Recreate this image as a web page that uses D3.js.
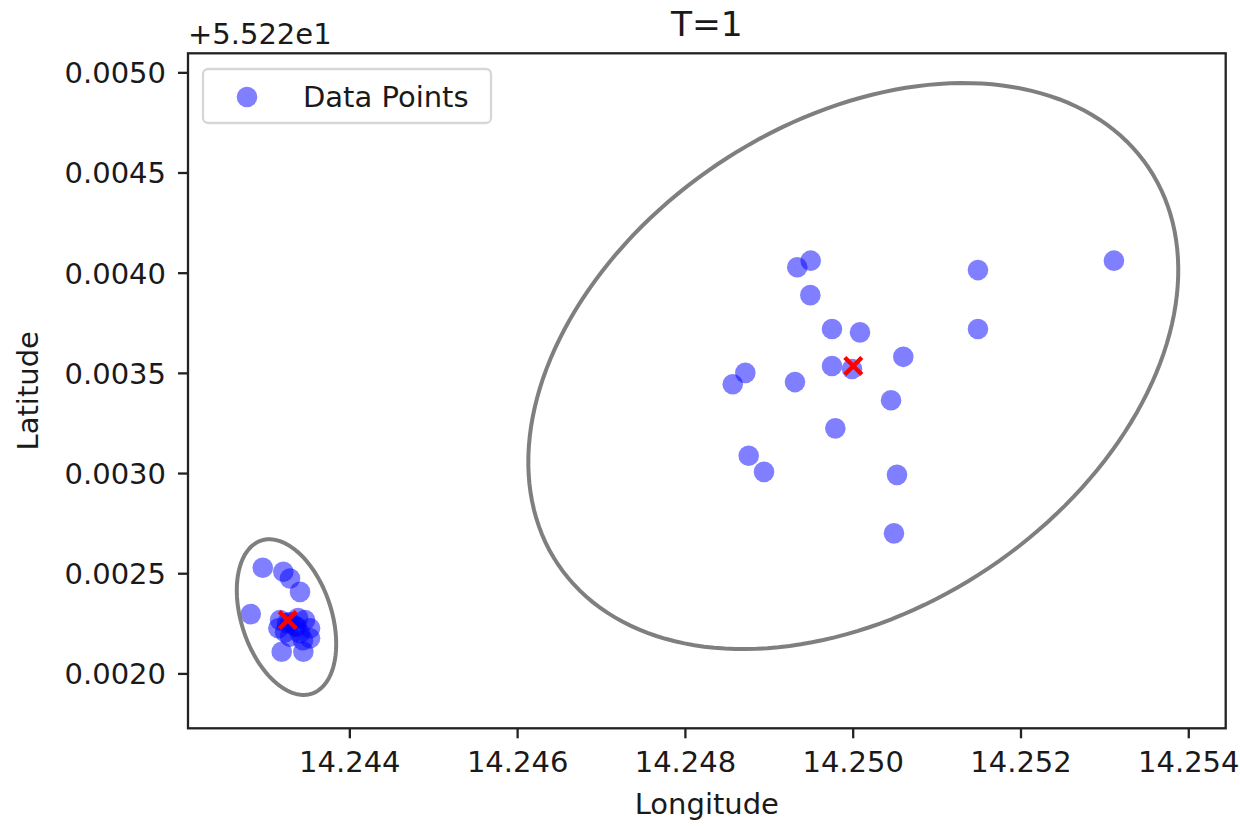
<!DOCTYPE html>
<html>
<head>
<meta charset="utf-8">
<script src="https://cdn.jsdelivr.net/npm/d3@7"></script>
<style>
  body { margin: 0; background: #fff; }
  svg { display: block; font-family: "DejaVu Sans", sans-serif; }
</style>
</head>
<body>
<svg id="graph" width="1240" height="827"></svg>
<script>
// points (lon, lat offset from 55.22)
var lonValues = [
  14.249339, 14.249499, 14.249495, 14.249753, 14.250087, 14.250603, 14.249753, 14.249992,
  14.248720, 14.248570, 14.249312, 14.250457, 14.249793, 14.248760, 14.248943, 14.250528,
  14.250492, 14.251493, 14.251493, 14.253114,
  14.242968, 14.243213, 14.243293, 14.243412, 14.242825, 14.243174, 14.243472, 14.243532,
  14.243532, 14.243293, 14.243154, 14.243373, 14.243194, 14.243452, 14.243257, 14.243412,
  14.243293, 14.243389, 14.243234, 14.243448, 14.243353
];
var latValues = [
  0.004027, 0.004060, 0.003888, 0.003719, 0.003702, 0.003580, 0.003534, 0.003519,
  0.003500, 0.003443, 0.003454, 0.003363, 0.003223, 0.003086, 0.003006, 0.002991,
  0.002699, 0.004013, 0.003719, 0.004060,
  0.002527, 0.002507, 0.002474, 0.002407, 0.002296, 0.002266, 0.002266, 0.002225,
  0.002175, 0.002183, 0.002225, 0.002233, 0.002108, 0.002108, 0.002251, 0.002201,
  0.002256, 0.002276, 0.002206, 0.002166, 0.002236
];
// cluster centres (red x)
var centerLon = [14.243266, 14.250007];
var centerLat = [0.002266, 0.003534];
// ellipses: centre, full width / height in data units, angle in degrees
var ellipseLon = [14.243251, 14.250007];
var ellipseLat = [0.002281, 0.003534];
var ellipseWidth = [0.0012303, 0.007814];
var ellipseHeight = [0.00070228, 0.002635];
var ellipseAngle = [-19.2, 7.96];

var xTicks = [14.244, 14.246, 14.248, 14.250, 14.252, 14.254];
var yTicks = [0.0020, 0.0025, 0.0030, 0.0035, 0.0040, 0.0045, 0.0050];
var xDomain = [14.242077, 14.254446];
var yDomain = [0.001726, 0.005095];

var plotLeft = 188, plotRight = 1225.7, plotTop = 53.3, plotBottom = 728.3;
var fontSize = 29;
var pointColor = "rgba(0,0,255,0.5)";
var textColor = "#1a1a1a";

var svg = d3.select("#graph");
var x = d3.scaleLinear().domain(xDomain).range([plotLeft, plotRight]);
var y = d3.scaleLinear().domain(yDomain).range([plotBottom, plotTop]);

svg.append("defs").append("clipPath").attr("id", "plotClip")
  .append("rect")
  .attr("x", plotLeft).attr("y", plotTop)
  .attr("width", plotRight - plotLeft).attr("height", plotBottom - plotTop);

var plot = svg.append("g").attr("clip-path", "url(#plotClip)");

function ellipsePoints(i) {
  var a = ellipseWidth[i] / 2, b = ellipseHeight[i] / 2;
  var phi = ellipseAngle[i] * Math.PI / 180;
  var pts = [];
  for (var k = 0; k < 180; k++) {
    var t = k / 180 * 2 * Math.PI;
    pts.push([
      ellipseLon[i] + a * Math.cos(t) * Math.cos(phi) - b * Math.sin(t) * Math.sin(phi),
      ellipseLat[i] + a * Math.cos(t) * Math.sin(phi) + b * Math.sin(t) * Math.cos(phi)
    ]);
  }
  return pts;
}

var points = lonValues.map(function (d, i) { return { lon: d, lat: latValues[i] }; });
plot.selectAll("circle.pt")
  .data(points)
  .enter().append("circle")
  .attr("class", "pt")
  .attr("cx", function (d) { return x(d.lon); })
  .attr("cy", function (d) { return y(d.lat); })
  .attr("r", 10.3)
  .style("fill", pointColor);

var centers = centerLon.map(function (d, i) { return { lon: d, lat: centerLat[i] }; });
plot.selectAll("path.center")
  .data(centers)
  .enter().append("path")
  .attr("class", "center")
  .attr("transform", function (d) { return "translate(" + x(d.lon) + "," + y(d.lat) + ")"; })
  .attr("d", "M-8.5,-8.5L8.5,8.5M-8.5,8.5L8.5,-8.5")
  .style("stroke", "red")
  .style("stroke-width", 4.4)
  .style("fill", "none");

var line = d3.line()
  .x(function (d) { return x(d[0]); })
  .y(function (d) { return y(d[1]); })
  .curve(d3.curveLinearClosed);
plot.selectAll("path.ellipse")
  .data(ellipseLon.map(function (d, i) { return ellipsePoints(i); }))
  .enter().append("path")
  .attr("class", "ellipse")
  .attr("d", line)
  .style("fill", "none")
  .style("stroke", "#7f7f7f")
  .style("stroke-width", 4);

// axes
var xAxis = svg.append("g")
  .attr("transform", "translate(0," + plotBottom + ")")
  .call(d3.axisBottom(x).tickValues(xTicks).tickFormat(d3.format(".3f")).tickSizeInner(10).tickSizeOuter(0).tickPadding(12));
var yAxis = svg.append("g")
  .attr("transform", "translate(" + plotLeft + ",0)")
  .call(d3.axisLeft(y).tickValues(yTicks).tickFormat(d3.format(".4f")).tickSizeInner(10).tickSizeOuter(0).tickPadding(12));
[xAxis, yAxis].forEach(function (g) {
  g.select(".domain").remove();
  g.selectAll(".tick line").style("stroke", "#222").style("stroke-width", 2.3);
  g.selectAll(".tick text").style("font-size", fontSize + "px").style("fill", textColor)
    .style("font-family", "DejaVu Sans");
});
xAxis.selectAll(".tick text").attr("dy", "0.75em");
yAxis.selectAll(".tick text").attr("dy", "0.36em");

svg.append("rect")
  .attr("x", plotLeft).attr("y", plotTop)
  .attr("width", plotRight - plotLeft).attr("height", plotBottom - plotTop)
  .style("fill", "none")
  .style("stroke", "#222")
  .style("stroke-width", 2.3);

// texts
svg.append("text")
  .attr("x", (plotLeft + plotRight) / 2).attr("y", 36)
  .attr("text-anchor", "middle")
  .style("font-size", "34.5px").style("fill", textColor)
  .text("T=1");
svg.append("text")
  .attr("x", plotLeft).attr("y", 44)
  .style("font-size", fontSize + "px").style("fill", textColor)
  .text("+5.522e1");
svg.append("text")
  .attr("x", (plotLeft + plotRight) / 2).attr("y", 814)
  .attr("text-anchor", "middle")
  .style("font-size", fontSize + "px").style("fill", textColor)
  .text("Longitude");
svg.append("text")
  .attr("transform", "translate(38," + (plotTop + plotBottom) / 2 + ") rotate(-90)")
  .attr("text-anchor", "middle")
  .style("font-size", fontSize + "px").style("fill", textColor)
  .text("Latitude");

// legend
var legend = svg.append("g");
legend.append("rect")
  .attr("x", 203).attr("y", 69)
  .attr("width", 288).attr("height", 54)
  .attr("rx", 5)
  .style("fill", "rgba(255,255,255,0.8)")
  .style("stroke", "#d6d6d6")
  .style("stroke-width", 2.3);
legend.append("circle")
  .attr("cx", 247).attr("cy", 97).attr("r", 10.3)
  .style("fill", pointColor);
legend.append("text")
  .attr("x", 303).attr("y", 107)
  .style("font-size", fontSize + "px").style("fill", textColor)
  .text("Data Points");
</script>
</body>
</html>
